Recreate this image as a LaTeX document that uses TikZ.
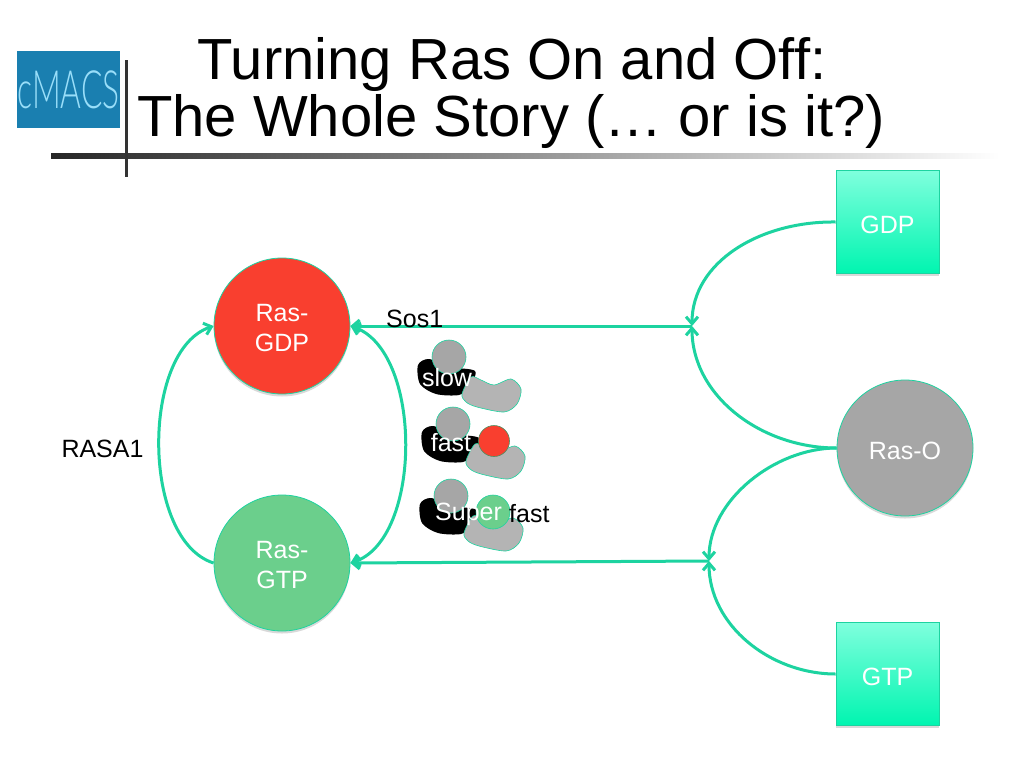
\documentclass[tikz,border=0pt]{standalone}
\usepackage{fontspec}
\setmainfont{Liberation Sans}
\newfontfamily\logofont{Lato Light}
\usetikzlibrary{arrows.meta,shadows}
\definecolor{linkgreen}{HTML}{1DD3A0}
\definecolor{rasred}{HTML}{F93F2F}
\definecolor{rasgreen}{HTML}{6BCF8C}
\definecolor{rasgray}{HTML}{A6A6A6}
\definecolor{blobgray}{HTML}{B4B4B4}
\definecolor{logoblue}{HTML}{1A7FB0}
\definecolor{minttop}{HTML}{7FFFDD}
\definecolor{mintbottom}{HTML}{00F5B0}
\newcommand{\lowered}[1]{\raisebox{-2.5pt}[\height][\depth]{#1}}
\tikzset{
	ras/.style={circle, draw=linkgreen, line width=0.8pt, minimum size=136pt, inner sep=0pt, text=white, align=center, font=\fontsize{25}{30}\selectfont, drop shadow={opacity=0.3, shadow xshift=0pt, shadow yshift=-2.5pt}},
	nucleotide/.style={rectangle, draw=linkgreen, line width=0.6pt, minimum size=103pt, inner sep=0pt, top color=minttop, bottom color=mintbottom, text=white, font=\fontsize{25}{30}\selectfont, drop shadow={opacity=0.3, shadow xshift=0pt, shadow yshift=-2.5pt}},
	lbl/.style={inner sep=0pt, font=\fontsize{25}{30}\selectfont},
	ttl/.style={inner sep=0pt, font=\fontsize{58}{70}\selectfont},
	link/.style={draw=linkgreen, line width=3pt, -{Straight Barb[length=7pt,width=12pt]}},
	enzymeblob/.style={draw=linkgreen, line width=0.6pt, fill=blobgray},
	pics/enzyme/.style={code={
		\fill[black] plot[smooth cycle] coordinates {(-31,8) (-20,2) (0,10) (26,14) (20,30) (10,38) (-13,37) (-29,27)};
		\draw[enzymeblob] plot[smooth cycle] coordinates {(13,37) (22,20) (32,23) (45,28) (62,22) (72,32) (68,47) (55,55) (28,50) (17,45)};
		\draw[enzymeblob, fill=rasgray] (0,0) circle (17);
	}}
}
\begin{document}
\begin{tikzpicture}[x=1pt, y=-1pt]
	\useasboundingbox (0,0) rectangle (1024,768);
	% header
	\node[fill=logoblue, minimum width=103pt, minimum height=77pt, inner sep=0pt] (logo) at (68.5,89.5) {};
	\node[inner sep=0pt, text=cyan!40!white, xscale=0.72, yscale=1.2] (logo text) at (logo.center) {\fontsize{44}{44}\logofont cMACS};
	\shade[left color=black!85, right color=white, draw=none] (51,153.5) rectangle (1000,158.5);
	\draw[line width=3pt, black!80] (126,60) -- (126,177);
	\node[ttl] (title one) at (512,65) {Turning Ras On and Off:};
	\node[ttl] (title two) at (511,122) {The Whole Story (… or is it?)};

	% species
	\node[ras, fill=rasred] (ras gdp) at (282,326) {\lowered{Ras-}\\\lowered{GDP}};
	\node[ras, fill=rasgreen] (ras gtp) at (282,563) {\lowered{Ras-}\\\lowered{GTP}};
	\node[ras, fill=rasgray] (ras o) at (905,448) {\lowered{Ras-O}};
	\node[nucleotide] (gdp) at (887.5,222) {\lowered{GDP}};
	\node[nucleotide] (gtp) at (887.5,674) {\lowered{GTP}};
	\coordinate (top join) at (692,326);
	\coordinate (bottom join) at (709,561);

	% connectors
	\draw[link] (gdp.west) .. controls (760,221) and (692,262) .. (top join);
	\draw[link] (ras o.west) .. controls (760,448) and (692,395) .. (top join);
	\draw[link] (ras o.west) .. controls (775,448) and (709,500) .. (bottom join);
	\draw[link] (gtp.west) .. controls (770,674) and (709,625) .. (bottom join);
	\draw[link] (top join) -- (ras gdp.east);
	\draw[link] (bottom join) -- (ras gtp.east);
	\draw[link] (ras gtp.west) .. controls (141,540) and (141,350) .. (ras gdp.west);
	\draw[link, {Straight Barb[length=7pt,width=12pt]}-{Straight Barb[length=7pt,width=12pt]}] (ras gtp.east) .. controls (423,540) and (423,350) .. (ras gdp.east);

	% enzymes
	\pic (slow enzyme) at (449,357) {enzyme};
	\pic (fast enzyme) at (453,424) {enzyme};
	\pic (super enzyme) at (451,496) {enzyme};
	\node[circle, draw=rasgreen!70!black, line width=0.6pt, fill=rasred, minimum size=31pt, inner sep=0pt] (red ligand) at (494,441) {};
	\node[circle, draw=linkgreen, line width=0.6pt, fill=rasgreen, minimum size=34pt, inner sep=0pt] (green ligand) at (493,512) {};

	% labels
	\node[lbl, anchor=west] (sos) at (386,319) {Sos1};
	\node[lbl] (rasa) at (102.5,449) {RASA1};
	\node[lbl, text=white] (slow) at (447,378) {slow};
	\node[lbl, text=white] (fast) at (451,443) {fast};
	\node[lbl, anchor=west, text=white] (super) at (435,514) {Super};
	\node[lbl, anchor=west] (super fast) at (509,514) {fast};
\end{tikzpicture}
\end{document}
